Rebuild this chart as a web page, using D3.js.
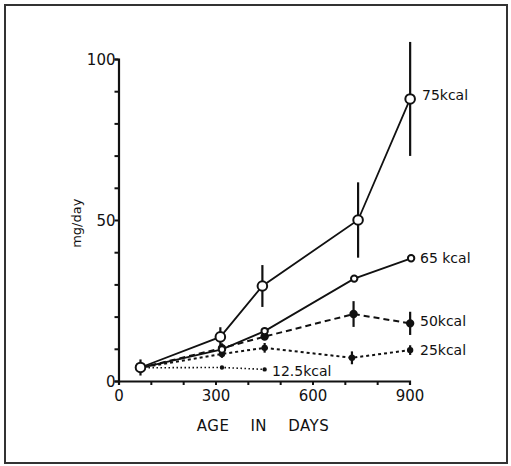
<!DOCTYPE html>
<html><head><meta charset="utf-8">
<script src="https://cdn.jsdelivr.net/npm/d3@7"></script>
<style>body{margin:0;background:#fff}svg{display:block}text{font-family:"DejaVu Sans",sans-serif;fill:#111}</style>
</head><body><svg id="c" width="511" height="466"></svg>
<script>
const days75 = [68, 315, 445, 741, 902];
const val75  = [4.2, 13.7, 29.5, 50, 87.6];
const err75  = [2.5, 3, 6.5, 11.7, 17.7];
const days65 = [68, 320, 452, 729, 905];
const val65  = [4.1, 9.8, 15.5, 31.8, 38.1];
const days50 = [68, 320, 452, 727, 902];
const val50  = [4.1, 10.2, 13.8, 20.8, 17.9];
const err50  = [0, 1.5, 0, 4, 3.6];
const days25 = [68, 320, 452, 722, 902];
const val25  = [4.1, 8.4, 10.3, 7.2, 9.6];
const err25  = [0, 1.2, 1.5, 2, 1.5];
const days12 = [68, 320, 452];
const val12  = [4.1, 4.2, 3.6];
const xTicks = [0, 300, 600, 900];
const yTicks = [0, 50, 100];
const labels = ["75kcal", "65 kcal", "50kcal", "25kcal", "12.5kcal"];

const svg = d3.select("#c");
const x = d3.scaleLinear().domain([0, 900]).range([118.5, 409.5]);
const y = d3.scaleLinear().domain([0, 100]).range([381, 59]);

// frame
svg.append("rect").attr("x", 5).attr("y", 5).attr("width", 502).attr("height", 458)
  .attr("fill", "none").attr("stroke", "#333").attr("stroke-width", 2);

// axes
const gx = svg.append("g").attr("transform", `translate(0,${y(0)})`)
  .call(d3.axisBottom(x).tickValues(d3.range(0, 901, 100)).tickSize(4).tickFormat(d => xTicks.includes(d) ? d : ""));
const gy = svg.append("g").attr("transform", `translate(${x(0)},0)`)
  .call(d3.axisLeft(y).tickValues(d3.range(0, 101, 10)).tickSize(4).tickFormat(d => yTicks.includes(d) ? d : ""));
[gx, gy].forEach(g => {
  g.select(".domain").attr("stroke", "#111").attr("stroke-width", 2.2);
  g.selectAll(".tick line").attr("stroke", "#111").attr("stroke-width", 2);
  g.selectAll("text").style("font-size", "15px").attr("fill", "#111");
});
gx.selectAll("text").attr("dy", "0.85em");
gy.selectAll("text").attr("dy", "0.35em").attr("x", -3);

svg.append("text").attr("transform", `translate(81,${y(49)}) rotate(-90)`)
  .attr("text-anchor", "middle").style("font-size", "13px").text("mg/day");
svg.append("text").attr("x", 263).attr("y", 431).attr("text-anchor", "middle")
  .style("font-size", "15px").style("letter-spacing", "0.5px").attr("xml:space", "preserve").text("AGE    IN    DAYS");

const line = d3.line().x(d => x(d[0])).y(d => y(d[1]));
const zip = (a, b) => a.map((d, i) => [d, b[i]]);

function series(dd, vv, ee, dash, r, fill, lw) {
  const pts = zip(dd, vv);
  svg.append("path").datum(pts).attr("d", line).attr("fill", "none")
    .attr("stroke", "#111").attr("stroke-width", lw).attr("stroke-dasharray", dash);
  if (ee) {
    svg.append("g").selectAll("line").data(pts.map((p, i) => [p[0], p[1], ee[i]]).filter(d => d[2] > 0))
      .join("line").attr("x1", d => x(d[0])).attr("x2", d => x(d[0]))
      .attr("y1", d => y(d[1] - d[2])).attr("y2", d => y(d[1] + d[2]))
      .attr("stroke", "#111").attr("stroke-width", 2.2);
  }
  svg.append("g").selectAll("circle").data(pts).join("circle")
    .attr("cx", d => x(d[0])).attr("cy", d => y(d[1])).attr("r", r)
    .attr("fill", fill).attr("stroke", "#111").attr("stroke-width", 2);
}

series(days12, val12, null, "1.5,2.5", 1.2, "#111", 1.6);
series(days25, val25, err25, "3,3", 2.2, "#111", 2);
series(days50, val50, err50, "6,4", 3.2, "#111", 2);
series(days65, val65, null, null, 3.2, "#fff", 1.8);
series(days75, val75, err75, null, 4.8, "#fff", 1.8);

const lab = [[val75[4], 422, 95.5], [val65[4], 420, 258], [val50[4], 420, 321], [val25[4], 420, 350], [val12[2], 272, 371]];
svg.append("g").selectAll("text").data(labels).join("text")
  .attr("x", (d, i) => lab[i][1]).attr("y", (d, i) => lab[i][2]).attr("dy", "0.35em")
  .style("font-size", "14px").text(d => d);
</script></body></html>
